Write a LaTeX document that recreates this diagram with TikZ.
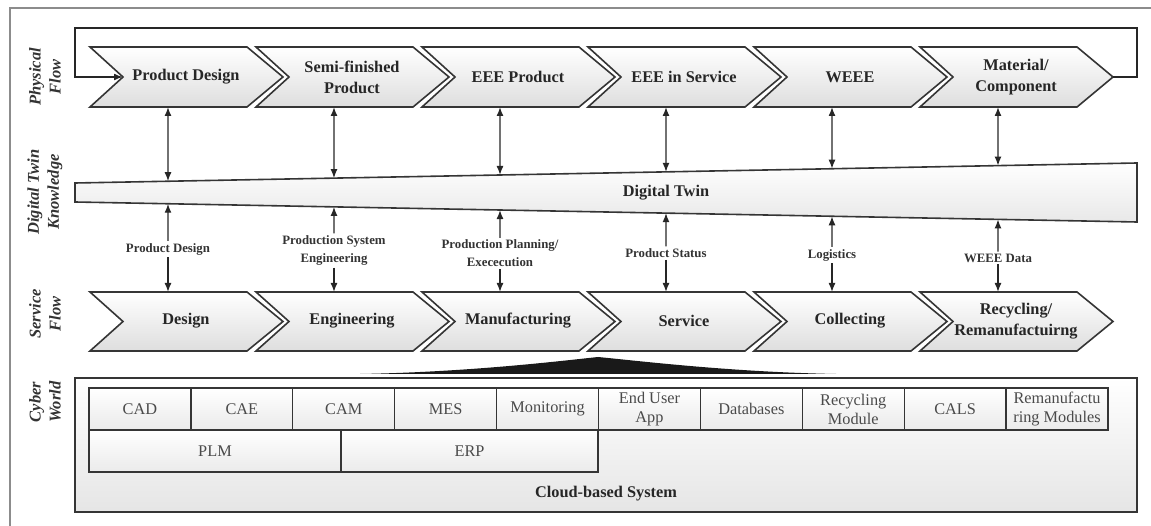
\documentclass[tikz,border=0pt]{standalone}
\usepackage{fontspec}
\setmainfont{Liberation Serif}
\usetikzlibrary{arrows.meta,calc}

\definecolor{edge}{HTML}{353535}
\definecolor{framegray}{HTML}{8C8C8C}
\definecolor{modtext}{HTML}{4A4A4A}

\tikzset{
  chev/.style={draw=edge, line width=1.6pt, line join=miter, top color=white, bottom color=black!13},
  chevtext/.style={font=\fontsize{16.3}{21}\bfseries\selectfont, align=center, text=black!85, inner sep=0pt},
  smalltext/.style={font=\fontsize{12.8}{18}\bfseries\selectfont, align=center, text=black!80, inner sep=2pt},
  sidetext/.style={font=\fontsize{16.5}{20}\bfseries\itshape\selectfont, align=center, text=black!80, rotate=90},
  modtextstyle/.style={font=\fontsize{16.3}{19}\selectfont, align=center, text=modtext, inner sep=0pt},
  tip/.style={-{Latex[length=9pt,width=7pt]}},
  bothtips/.style={{Latex[length=9pt,width=7pt]}-{Latex[length=9pt,width=7pt]}},
  link/.style={line width=1.4pt, draw=black!85},
  cell/.style={draw=edge, line width=1.3pt, top color=white, bottom color=black!8},
}

% a chevron: left x, top y, bottom y
\newcommand\drawchevron[3]{%
  \filldraw[chev] (#1,#2) -- (#1+157,#2) -- (#1+193,{(#2+#3)/2}) -- (#1+157,#3)
    -- (#1,#3) -- (#1+33,{(#2+#3)/2}) -- cycle;}

\begin{document}
\begin{tikzpicture}[x=1pt,y=-1pt]
\useasboundingbox (0,0) rectangle (1151,526);

% outer frame
\draw[framegray, line width=1.2pt] (10,526) -- (10,8) -- (1151,8);

% side labels
\node[sidetext] (sPhys) at (45,77) {Physical\\Flow};
\node[sidetext] (sTwin) at (45,192) {Digital Twin\\Knowledge};
\node[sidetext] (sServ) at (45,314) {Service\\Flow};
\node[sidetext] (sCyber) at (45,402) {Cyber\\World};

% physical flow chevrons
\foreach \L [count=\i] in {90,256,422,588,754,920}{
  \drawchevron{\L}{47}{107}
  \coordinate (pb\i) at (\L+78,107);
  \coordinate (st\i) at (\L+78,292);
}
\coordinate (pnotch) at (123,77);
\coordinate (ptip) at (1113,77);
\node[chevtext] (p1) at (186,77) {Product Design};
\node[chevtext] (p2) at (352,77) {Semi-finished\\Product};
\node[chevtext] (p3) at (518,77) {EEE Product};
\node[chevtext] (p4) at (684,77) {EEE in Service};
\node[chevtext] (p5) at (850,77) {WEEE};
\node[chevtext] (p6) at (1016,77) {Material/\\Component};

% feedback loop from the last stage back to the first
\coordinate (lr1) at (1137,77);
\coordinate (lr2) at (1137,28);
\coordinate (ll1) at (75,28);
\coordinate (ll2) at (75,77);
\draw[link, line width=1.6pt, tip] (ptip) -- (lr1) -- (lr2) -- (ll1) -- (ll2) -- (pnotch);

% digital twin wedge
\coordinate (wTL) at (75,183);
\coordinate (wTR) at (1137,163);
\coordinate (wBR) at (1137,222);
\coordinate (wBL) at (75,202);
\filldraw[draw=edge, line width=1.6pt, top color=white, bottom color=black!9]
  (wTL) -- (wTR) -- (wBR) -- (wBL) -- cycle;
\node[chevtext] (twin) at (666,193) {Digital Twin};

% points on the wedge edges above each stage
\foreach \X [count=\i] in {168,334,500,666,832,998}{
  \coordinate (wt\i) at ($(wTL)!{(\X-75)/1062}!(wTR)$);
  \coordinate (wb\i) at ($(wBL)!{(\X-75)/1062}!(wBR)$);
  \draw[link, bothtips] (pb\i) -- (wt\i);
}

% service flow chevrons
\foreach \L in {90,256,422,588,754,920}{
  \drawchevron{\L}{292}{351}
}
\node[chevtext] (s1) at (186,321) {Design};
\node[chevtext] (s2) at (352,321) {Engineering};
\node[chevtext] (s3) at (518,321) {Manufacturing};
\node[chevtext] (s4) at (684,321) {Service};
\node[chevtext] (s5) at (850,321) {Collecting};
\node[chevtext] (s6) at (1016,321) {Recycling/\\Remanufactuirng};

% data exchanged between twin and service stages
\node[smalltext] (d1) at (168,249) {Product Design};
\node[smalltext] (d2) at (334,250.5) {Production System\\Engineering};
\node[smalltext] (d3) at (500,253.5) {Production Planning/\\Exececution};
\node[smalltext] (d4) at (666,253) {Product Status};
\node[smalltext] (d5) at (832,255) {Logistics};
\node[smalltext] (d6) at (998,258) {WEEE Data};
\foreach \i in {1,...,6}{
  \draw[link, tip] (d\i.north) -- (wb\i);
  \draw[link, tip] (d\i.south) -- (st\i);
}

% fan linking the service layer to the cyber world
\fill[black!90] (360,374) .. controls (470,372) and (560,361) .. (598,357)
  .. controls (640,361) and (730,372) .. (836,374) -- cycle;

% cyber world
\filldraw[draw=edge, line width=1.6pt, top color=white, bottom color=black!10]
  (75,378) rectangle (1137,512);
\node[chevtext] (cloud) at (606,494) {Cloud-based System};

\foreach \t [count=\i from 0] in {CAD,CAE,CAM,MES,Monitoring,End User\\App,Databases,Recycling\\Module,CALS,Remanufactu\\ring Modules}{
  \filldraw[cell] (89+101.9*\i,388) rectangle (89+101.9*\i+101.9,430);
  \node[modtextstyle] (m\i) at (89+101.9*\i+50.95,409) {\t};
}
\filldraw[cell] (89,430) rectangle (341,472);
\node[modtextstyle] (plm) at (215,451) {PLM};
\filldraw[cell] (341,430) rectangle (598,472);
\node[modtextstyle] (erp) at (469.5,451) {ERP};

\end{tikzpicture}
\end{document}
